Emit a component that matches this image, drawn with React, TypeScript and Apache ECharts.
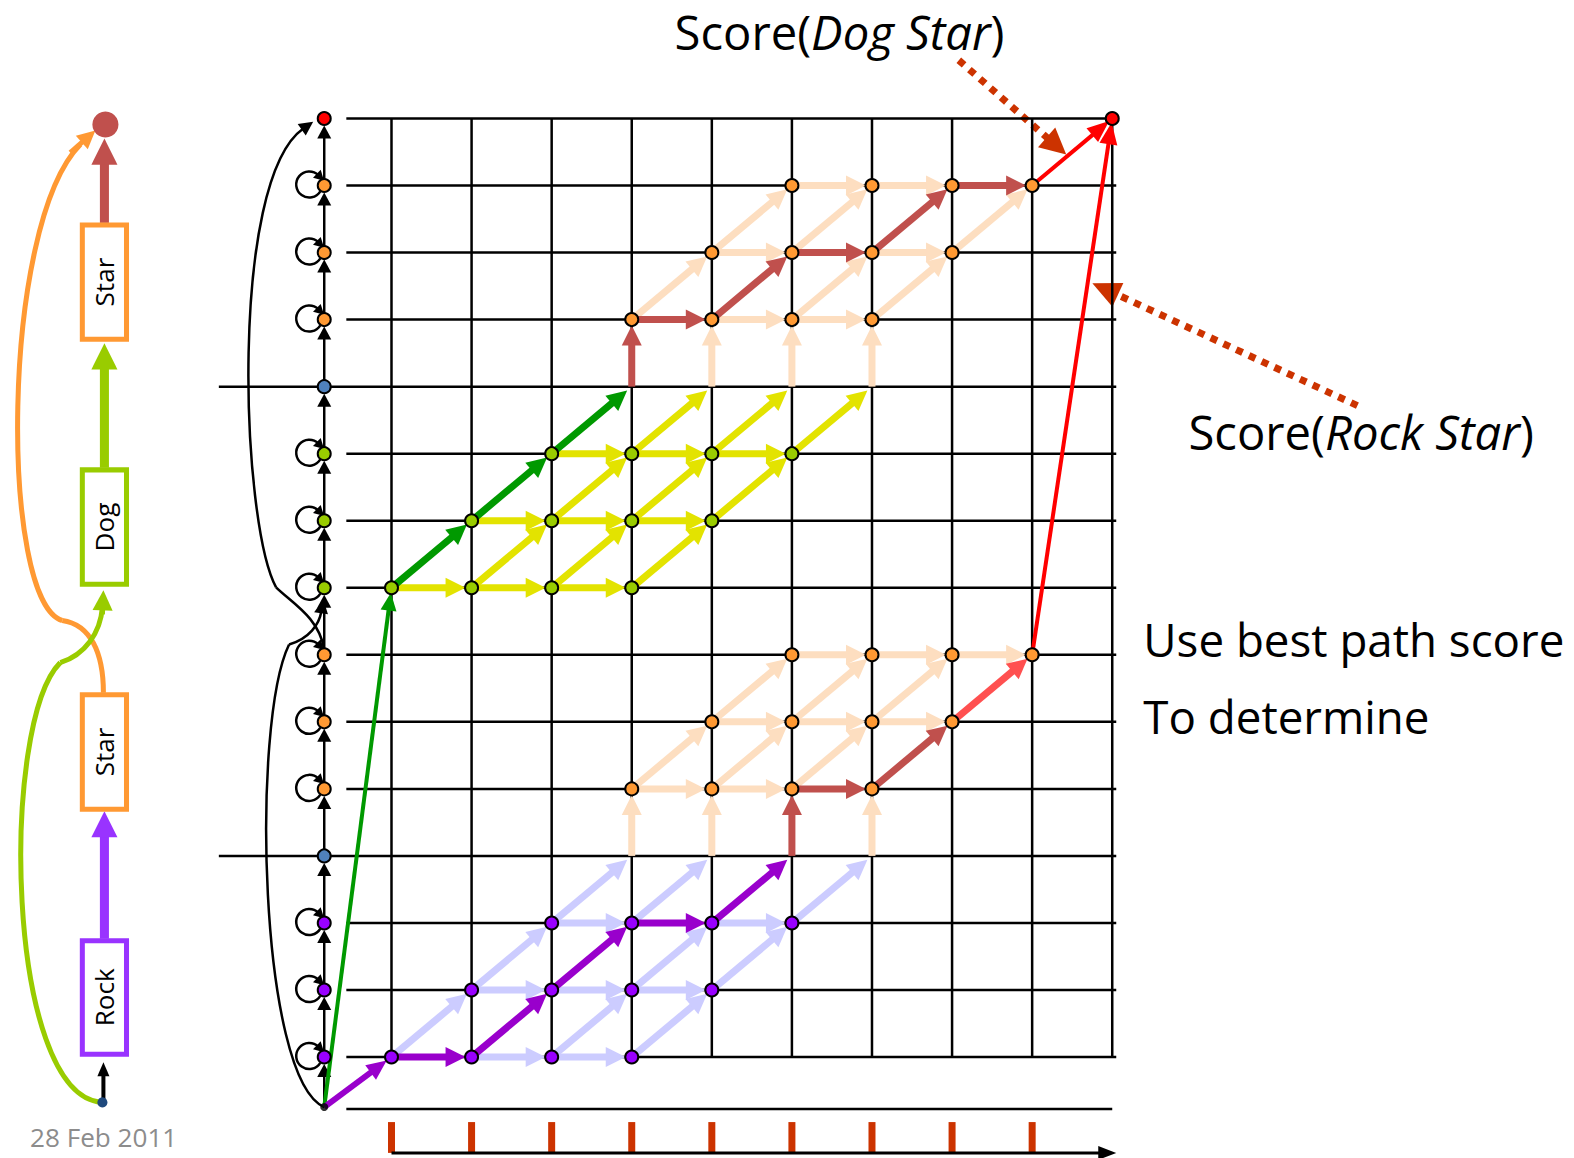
import React, { useEffect, useRef } from "react";
import * as echarts from "echarts";

// ---------- structure of the trellis (x = time step, y = state row) ----------
const STATE_COL = 0.16; // the column that lists the HMM states
const START_ROW = 0.254; // the non-emitting start state
const timeCols = [1, 2, 3, 4, 5, 6, 7, 8, 9, 10];
const stateRows = [1, 2, 3, 5, 6, 7, 8, 9, 10, 12, 13, 14]; // emitting states (have self loops)
const boundaryRows = [4, 11]; // word boundary (non-emitting)
const TOP_ROW = 15; // final state
const bottomLineRow = 0.224;
const tickCols = [1, 2, 3, 4, 5, 6, 7, 8, 9];

// nodes inside the trellis
const rockNodes = [[1, 1], [2, 1], [3, 1], [4, 1], [2, 2], [3, 2], [4, 2], [5, 2], [3, 3], [4, 3], [5, 3], [6, 3]];
const dogNodes = [[1, 8], [2, 8], [3, 8], [4, 8], [2, 9], [3, 9], [4, 9], [5, 9], [3, 10], [4, 10], [5, 10], [6, 10]];
const star1Nodes = [[4, 5], [5, 5], [6, 5], [7, 5], [5, 6], [6, 6], [7, 6], [8, 6], [6, 7], [7, 7], [8, 7], [9, 7]];
const star2Nodes = [[4, 12], [5, 12], [6, 12], [7, 12], [5, 13], [6, 13], [7, 13], [8, 13], [6, 14], [7, 14], [8, 14], [9, 14]];

// state-column nodes by colour group
const colRock = [1, 2, 3];
const colStar = [5, 6, 7, 12, 13, 14];
const colDog = [8, 9, 10];
const colBoundary = [4, 11];

// edges [x1, y1, x2, y2]
const rockLight = [
  [2, 1, 3, 1], [3, 1, 4, 1],
  [1, 1, 2, 2], [3, 1, 4, 2], [4, 1, 5, 2],
  [2, 2, 3, 2], [3, 2, 4, 2], [4, 2, 5, 2],
  [2, 2, 3, 3], [4, 2, 5, 3], [5, 2, 6, 3],
  [3, 3, 4, 3], [5, 3, 6, 3],
  [3, 3, 4, 4], [4, 3, 5, 4], [6, 3, 7, 4],
];
const rockBest = [[1, 1, 2, 1], [2, 1, 3, 2], [3, 2, 4, 3], [4, 3, 5, 3], [5, 3, 6, 4]];
const rockEntry = [[STATE_COL, START_ROW, 1, 1]];

const dogLight = [
  [1, 8, 2, 8], [2, 8, 3, 8], [3, 8, 4, 8],
  [2, 8, 3, 9], [3, 8, 4, 9], [4, 8, 5, 9],
  [2, 9, 3, 9], [3, 9, 4, 9], [4, 9, 5, 9],
  [3, 9, 4, 10], [4, 9, 5, 10], [5, 9, 6, 10],
  [3, 10, 4, 10], [4, 10, 5, 10], [5, 10, 6, 10],
  [4, 10, 5, 11], [5, 10, 6, 11], [6, 10, 7, 11],
];
const dogBest = [[1, 8, 2, 9], [2, 9, 3, 10], [3, 10, 4, 11]];
const dogEntry = [[STATE_COL, START_ROW, 1, 8]];

const star1Light = [
  [4, 4, 4, 5], [5, 4, 5, 5], [7, 4, 7, 5],
  [4, 5, 5, 5], [5, 5, 6, 5],
  [4, 5, 5, 6], [5, 5, 6, 6], [6, 5, 7, 6],
  [5, 6, 6, 6], [6, 6, 7, 6], [7, 6, 8, 6],
  [5, 6, 6, 7], [6, 6, 7, 7], [7, 6, 8, 7],
  [6, 7, 7, 7], [7, 7, 8, 7], [8, 7, 9, 7],
];
const star1Best = [[6, 4, 6, 5], [6, 5, 7, 5], [7, 5, 8, 6]];
const star1Bright = [[8, 6, 9, 7]];

const star2Light = [
  [5, 11, 5, 12], [6, 11, 6, 12], [7, 11, 7, 12],
  [5, 12, 6, 12], [6, 12, 7, 12],
  [4, 12, 5, 13], [6, 12, 7, 13], [7, 12, 8, 13],
  [5, 13, 6, 13], [7, 13, 8, 13],
  [5, 13, 6, 14], [6, 13, 7, 14], [8, 13, 9, 14],
  [6, 14, 7, 14], [7, 14, 8, 14],
];
const star2Best = [[4, 11, 4, 12], [4, 12, 5, 12], [5, 12, 6, 13], [6, 13, 7, 13], [7, 13, 8, 14], [8, 14, 9, 14]];
const finalEdges = [[9, 14, 10, 15], [9, 7, 10, 15]];

// long arcs in the state column (bezier control points in trellis coords)
const stateArcs = [
  [[STATE_COL, START_ROW], [-0.655, 0.671], [-0.755, 5.985], [-0.279, 7.153], [-0.028, 7.243], [0.098, 7.452], [0.148, 7.826]],
  [[STATE_COL, 7.078], [0.098, 7.557], [-0.253, 7.781], [-0.441, 8.006], [-0.88, 8.979], [-1.031, 14.07], [0.022, 14.952]],
];

const FONT = "'Open Sans', Lato, sans-serif";

function arrowGroup(p1: number[], p2: number[], o: any) {
  const dx = p2[0] - p1[0];
  const dy = p2[1] - p1[1];
  const len = Math.hypot(dx, dy) || 1;
  const ux = dx / len;
  const uy = dy / len;
  const s = o.shrink || 0;
  const tip = [p2[0] - ux * s, p2[1] - uy * s];
  const base = [tip[0] - ux * o.headLen, tip[1] - uy * o.headLen];
  const nx = -uy;
  const ny = ux;
  const st = o.startShrink || 0;
  const children: any[] = [
    {
      type: "line",
      shape: { x1: p1[0] + ux * st, y1: p1[1] + uy * st, x2: base[0] + ux * 2, y2: base[1] + uy * 2 },
      style: { stroke: o.color, lineWidth: o.width, lineCap: "butt", lineDash: o.dash || null },
    },
    {
      type: "polygon",
      shape: {
        points: [
          tip,
          [base[0] + nx * o.headW, base[1] + ny * o.headW],
          [base[0] - nx * o.headW, base[1] - ny * o.headW],
        ],
      },
      style: { fill: o.color },
    },
  ];
  return { type: "group", children };
}

function arrowSeries(edges: number[][], o: any, z: number) {
  return {
    type: "custom",
    coordinateSystem: "cartesian2d",
    silent: true,
    z,
    data: edges,
    renderItem: (_p: any, api: any) => {
      const p1 = api.coord([api.value(0), api.value(1)]);
      const p2 = api.coord([api.value(2), api.value(3)]);
      return arrowGroup(p1, p2, o);
    },
  };
}

function segSeries(segs: number[][], color: string, width: number, z: number) {
  return {
    type: "custom",
    coordinateSystem: "cartesian2d",
    silent: true,
    z,
    data: segs,
    renderItem: (_p: any, api: any) => {
      const p1 = api.coord([api.value(0), api.value(1)]);
      const p2 = api.coord([api.value(2), api.value(3)]);
      return {
        type: "line",
        shape: { x1: p1[0], y1: p1[1], x2: p2[0], y2: p2[1] },
        style: { stroke: color, lineWidth: width, lineCap: "butt" },
      };
    },
  };
}

function nodeSeries(points: number[][], color: string, size = 13) {
  return {
    type: "scatter",
    silent: true,
    z: 10,
    symbol: "circle",
    symbolSize: size,
    data: points,
    itemStyle: { color, borderColor: "#000", borderWidth: 2, opacity: 1 },
  };
}

function pxArrow(x1: number, y1: number, x2: number, y2: number, o: any) {
  return arrowGroup([x1, y1], [x2, y2], o);
}

export default function App() {
  const ref = useRef<HTMLDivElement>(null);
  useEffect(() => {
    if (!ref.current) return;
    const chart = echarts.init(ref.current, null, { renderer: "svg" });

    const hLines: number[][] = [];
    for (const r of stateRows) hLines.push([0.436, r, 10.05, r]);
    for (const r of boundaryRows) hLines.push([-1.156, r, 10.05, r]);
    hLines.push([0.436, TOP_ROW, 10.0, TOP_ROW]);
    hLines.push([0.436, bottomLineRow, 10.0, bottomLineRow]);
    const vLines = timeCols.map((c) => [c, 1, c, TOP_ROW]);
    const ticks = tickCols.map((c) => [c, 0.03, c, -0.43]);

    const colChain: number[][] = [];
    const chainRows = [START_ROW, 1, 2, 3, 4, 5, 6, 7, 8, 9, 10, 11, 12, 13, 14, 15];
    for (let i = 0; i < chainRows.length - 1; i++) colChain.push([STATE_COL, chainRows[i], STATE_COL, chainRows[i + 1]]);

    const heavy = { width: 7, headLen: 20, headW: 10, shrink: 6 };

    const series: any[] = [
      segSeries(hLines, "#000", 2.5, 1),
      segSeries(vLines, "#000", 2.5, 1),
      segSeries(ticks, "#CC3300", 7, 1),
      arrowSeries([[1, -0.43, 10.05, -0.43]], { color: "#000", width: 3, headLen: 18, headW: 7, shrink: 0 }, 1),
      // state column chain
      arrowSeries(colChain, { color: "#000", width: 2.5, headLen: 13, headW: 7, shrink: 7 }, 2),
      // self loops
      {
        type: "custom",
        coordinateSystem: "cartesian2d",
        silent: true,
        z: 2,
        data: stateRows.map((r) => [STATE_COL, r]),
        renderItem: (_p: any, api: any) => {
          const p = api.coord([api.value(0), api.value(1)]);
          const cx = p[0] - 15;
          const cy = p[1] - 1;
          const r = 13;
          const endA = -0.8;
          const ex = cx + r * Math.cos(endA);
          const ey = cy + r * Math.sin(endA);
          const tx = -Math.sin(endA);
          const ty = Math.cos(endA);
          const tip = [ex + tx * 8, ey + ty * 8];
          const base = [ex - tx * 2, ey - ty * 2];
          const nx = -ty;
          const ny = tx;
          return {
            type: "group",
            children: [
              {
                type: "arc",
                shape: { cx, cy, r, startAngle: 0.55, endAngle: Math.PI * 2 + endA, clockwise: true },
                style: { stroke: "#000", lineWidth: 2.5, fill: "none" },
              },
              {
                type: "polygon",
                shape: { points: [tip, [base[0] + nx * 5.5, base[1] + ny * 5.5], [base[0] - nx * 5.5, base[1] - ny * 5.5]] },
                style: { fill: "#000" },
              },
            ],
          };
        },
      },
      // long arcs
      {
        type: "custom",
        coordinateSystem: "cartesian2d",
        silent: true,
        z: 2,
        data: stateArcs.map((_a, i) => [STATE_COL, i]),
        renderItem: (params: any, api: any) => {
          const pts = stateArcs[params.dataIndex].map((q) => api.coord(q));
          const end = pts[6];
          const c2 = pts[5];
          const dx = end[0] - c2[0];
          const dy = end[1] - c2[1];
          const l = Math.hypot(dx, dy) || 1;
          const ux = dx / l;
          const uy = dy / l;
          const base = [end[0] - ux * 14, end[1] - uy * 14];
          return {
            type: "group",
            children: [
              {
                type: "bezierCurve",
                shape: { x1: pts[0][0], y1: pts[0][1], cpx1: pts[1][0], cpy1: pts[1][1], cpx2: pts[2][0], cpy2: pts[2][1], x2: pts[3][0], y2: pts[3][1] },
                style: { stroke: "#000", lineWidth: 2.5, fill: "none" },
              },
              {
                type: "bezierCurve",
                shape: { x1: pts[3][0], y1: pts[3][1], cpx1: pts[4][0], cpy1: pts[4][1], cpx2: pts[5][0], cpy2: pts[5][1], x2: base[0] + ux * 2, y2: base[1] + uy * 2 },
                style: { stroke: "#000", lineWidth: 2.5, fill: "none" },
              },
              {
                type: "polygon",
                shape: { points: [end, [base[0] - uy * 7, base[1] + ux * 7], [base[0] + uy * 7, base[1] - ux * 7]] },
                style: { fill: "#000" },
              },
            ],
          };
        },
      },
      // light lattice
      arrowSeries(rockLight, { ...heavy, color: "#CCCCFF" }, 3),
      arrowSeries(dogLight, { ...heavy, color: "#E3E300" }, 3),
      arrowSeries(star1Light, { ...heavy, color: "#FDDEC0" }, 3),
      arrowSeries(star2Light, { ...heavy, color: "#FDDEC0" }, 3),
      // best paths
      arrowSeries(dogEntry, { color: "#009900", width: 4, headLen: 18, headW: 8, shrink: 5 }, 4),
      arrowSeries(rockEntry, { color: "#9900CC", width: 6, headLen: 20, headW: 9, shrink: 6 }, 4),
      arrowSeries(rockBest, { ...heavy, color: "#9900CC" }, 4),
      arrowSeries(dogBest, { ...heavy, color: "#009900" }, 4),
      arrowSeries(star1Best, { ...heavy, color: "#C0504D" }, 4),
      arrowSeries(star2Best, { ...heavy, color: "#C0504D" }, 4),
      arrowSeries(star1Bright, { ...heavy, color: "#FF5050" }, 4),
      arrowSeries(finalEdges, { color: "#FF0000", width: 4, headLen: 22, headW: 9, shrink: 4 }, 4),
      // nodes
      nodeSeries(rockNodes, "#9900FF"),
      nodeSeries(dogNodes, "#99CC00"),
      nodeSeries(star1Nodes, "#FF9933"),
      nodeSeries(star2Nodes, "#FF9933"),
      nodeSeries(colRock.map((r) => [STATE_COL, r]), "#9900FF"),
      nodeSeries(colStar.map((r) => [STATE_COL, r]), "#FF9933"),
      nodeSeries(colDog.map((r) => [STATE_COL, r]), "#99CC00"),
      nodeSeries(colBoundary.map((r) => [STATE_COL, r]), "#4F81BD"),
      nodeSeries([[STATE_COL, TOP_ROW], [10, TOP_ROW]], "#FF0000"),
      {
        type: "scatter",
        silent: true,
        z: 10,
        symbolSize: 8,
        data: [[STATE_COL, START_ROW]],
        itemStyle: { color: "#000" },
      },
    ];

    const wordBox = (y: number, h: number, color: string, label: string) => [
      { type: "rect", shape: { x: 82, y, width: 44, height: h }, style: { fill: "#fff", stroke: color, lineWidth: 5 }, z: 5 },
      {
        type: "text",
        x: 104,
        y: y + h / 2,
        rotation: Math.PI / 2,
        z: 6,
        style: { text: label, fontSize: 26, fontFamily: FONT, fill: "#000", align: "center", verticalAlign: "middle" },
      },
    ];

    const bigHead = { headLen: 26, headW: 13, shrink: 0 };
    const FS = 47;
    const FS2 = 45.5;
    const rich = {
      n: { fontSize: FS, fontFamily: FONT, fill: "#000" },
      i: { fontSize: FS, fontFamily: FONT, fill: "#000", fontStyle: "italic" },
    };
    const drawing: any[] = [
      // word graph curves
      {
        type: "bezierCurve",
        shape: { x1: 103, y1: 690, cpx1: 103, cpy1: 650, cpx2: 90, cpy2: 622, x2: 62, y2: 618 },
        style: { stroke: "#FF9933", lineWidth: 5, fill: "none" },
      },
      {
        type: "bezierCurve",
        shape: { x1: 62, y1: 618, cpx1: 0, cpy1: 600, cpx2: 0, cpy2: 225, x2: 80, y2: 144 },
        style: { stroke: "#FF9933", lineWidth: 5, fill: "none" },
      },
      pxArrow(70, 152, 95, 130, { color: "#FF9933", width: 5, headLen: 18, headW: 9, shrink: 0 }),
      {
        type: "bezierCurve",
        shape: { x1: 101, y1: 1098, cpx1: 5, cpy1: 1090, cpx2: 0, cpy2: 720, x2: 60, y2: 660 },
        style: { stroke: "#99CC00", lineWidth: 5, fill: "none" },
      },
      {
        type: "bezierCurve",
        shape: { x1: 60, y1: 660, cpx1: 85, cpy1: 652, cpx2: 100, cpy2: 630, x2: 102, y2: 605 },
        style: { stroke: "#99CC00", lineWidth: 5, fill: "none" },
      },
      pxArrow(102, 612, 103, 588, { color: "#99CC00", width: 5, headLen: 20, headW: 10, shrink: 0 }),
      pxArrow(103, 1097, 103, 1058, { color: "#000", width: 4, headLen: 14, headW: 6, shrink: 0 }),
      pxArrow(104, 935, 104, 808, { ...bigHead, color: "#9933FF", width: 9 }),
      pxArrow(104, 466, 104, 342, { ...bigHead, color: "#99CC00", width: 9 }),
      pxArrow(104, 222, 104, 138, { ...bigHead, color: "#C0504D", width: 9 }),
      ...wordBox(937, 113, "#9933FF", "Rock"),
      ...wordBox(692, 114, "#FF9933", "Star"),
      ...wordBox(468, 114, "#99CC00", "Dog"),
      ...wordBox(224, 114, "#FF9933", "Star"),
      { type: "circle", shape: { cx: 105, cy: 124, r: 13 }, style: { fill: "#C0504D" } },
      { type: "circle", shape: { cx: 102, cy: 1098, r: 5 }, style: { fill: "#1F497D" } },
      // annotation arrows
      pxArrow(955, 60, 1062, 154, { color: "#CC3300", width: 7, headLen: 26, headW: 13, shrink: 0, dash: [7, 7] }),
      pxArrow(1352, 404, 1088, 282, { color: "#CC3300", width: 7, headLen: 28, headW: 13, shrink: 0, dash: [7, 7] }),
      // texts
      {
        type: "text",
        x: 672,
        y: 32,
        style: { text: "{n|Score(}{i|Dog Star}{n|)}", align: "left", verticalAlign: "middle", rich },
      },
      {
        type: "text",
        x: 1184,
        y: 430,
        style: { text: "{n|Score(}{i|Rock Star}{n|)}", align: "left", verticalAlign: "middle", rich },
      },
      {
        type: "text",
        x: 1139,
        y: 637,
        style: { text: "Use best path score", fontSize: FS2, fontFamily: FONT, fill: "#000", align: "left", verticalAlign: "middle" },
      },
      {
        type: "text",
        x: 1139,
        y: 713,
        style: { text: "To determine", fontSize: FS2, fontFamily: FONT, fill: "#000", align: "left", verticalAlign: "middle" },
      },
      {
        type: "text",
        x: 30,
        y: 1146,
        style: { text: "28 Feb 2011", fontSize: 26, fontFamily: FONT, fill: "#8C8C8C", align: "left", verticalAlign: "bottom" },
      },
    ];

    chart.setOption({
      animation: false,
      backgroundColor: "#fff",
      grid: { left: 7.1, width: 1553.6, top: 4.5, height: 1153.1 },
      xAxis: { type: "value", min: -3.8, max: 15.6, show: false },
      yAxis: { type: "value", min: -0.5, max: 16.7, show: false },
      series,
      graphic: [{ type: "group", x: 0, y: 0, scaleX: 1.0038, scaleY: 1.0038, children: drawing }],
    });
    return () => chart.dispose();
  }, []);
  return <div ref={ref} style={{ position: "absolute", left: 0, top: 0, width: 1574, height: 1158, background: "#fff" }} />;
}
